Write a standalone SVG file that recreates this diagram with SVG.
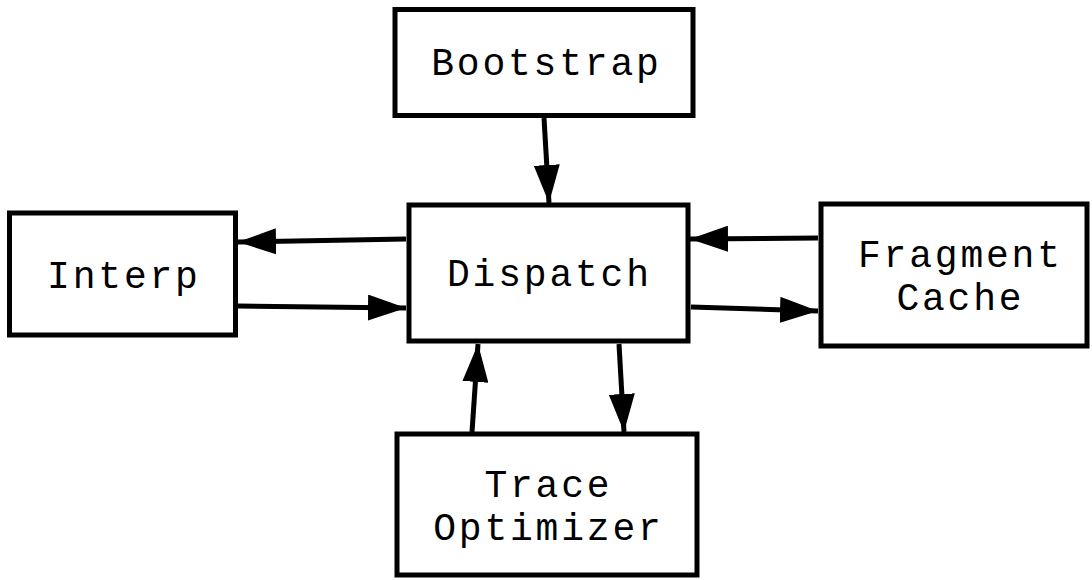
<svg xmlns="http://www.w3.org/2000/svg" width="1092" height="580" viewBox="0 0 1092 580">
  <style>
    .box { fill: #ffffff; stroke: #000000; stroke-width: 5; }
    .label { font-family: "Liberation Mono", "Courier New", monospace; font-size: 38px; letter-spacing: 2.8px; fill: #000000; text-anchor: middle; }
    .edge { fill: none; stroke: #000000; stroke-width: 5; marker-end: url(#arrow); }
  </style>
  <defs>
    <marker id="arrow" markerUnits="userSpaceOnUse" markerWidth="40" markerHeight="26" refX="38" refY="13" orient="auto">
      <path d="M0,0 L38,13 L0,26 Z" fill="#000000"/>
    </marker>
  </defs>
  <rect width="1092" height="580" fill="#ffffff"/>

  <g id="bootstrap">
    <rect class="box" x="395" y="9.5" width="298" height="106"/>
    <text class="label" x="546.4" y="75">Bootstrap</text>
  </g>

  <g id="interp">
    <rect class="box" x="9.5" y="213" width="226" height="122"/>
    <text class="label" x="123.9" y="288">Interp</text>
  </g>

  <g id="dispatch">
    <rect class="box" x="409" y="205" width="279" height="136"/>
    <text class="label" x="549.4" y="286">Dispatch</text>
  </g>

  <g id="fragment-cache">
    <rect class="box" x="821" y="204" width="266" height="142"/>
    <text class="label" x="960.4" y="267">Fragment</text>
    <text class="label" x="960.4" y="310">Cache</text>
  </g>

  <g id="trace-optimizer">
    <rect class="box" x="397" y="434" width="300" height="141"/>
    <text class="label" x="548.4" y="497">Trace</text>
    <text class="label" x="548.4" y="540">Optimizer</text>
  </g>

  <g id="connectors">
    <path class="edge" d="M544,118 L549,203"/>
    <path class="edge" d="M406,239 L238,242"/>
    <path class="edge" d="M238,306 L406,308"/>
    <path class="edge" d="M818,238 L690,239"/>
    <path class="edge" d="M691,307 L818,311"/>
    <path class="edge" d="M619,344 L624,432"/>
    <path class="edge" d="M472,432 L478,344"/>
  </g>
</svg>
